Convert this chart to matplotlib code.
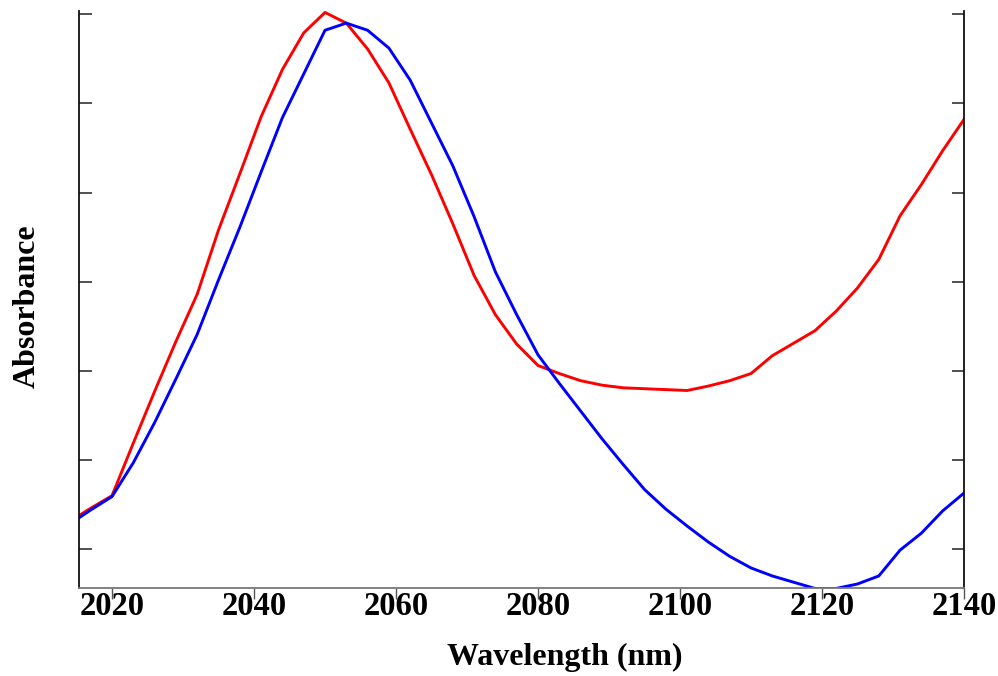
import matplotlib
matplotlib.use("Agg")
import matplotlib.pyplot as plt

wavelength = [2014, 2017, 2020, 2023, 2026, 2029, 2032, 2035, 2038, 2041, 2044, 2047,
              2050, 2053, 2056, 2059, 2062, 2065, 2068, 2071, 2074, 2077, 2080, 2083,
              2086, 2089, 2092, 2095, 2098, 2101, 2104, 2107, 2110, 2113, 2116, 2119,
              2122, 2125, 2128, 2131, 2134, 2137, 2140]

red_abs = [0.631, 0.646, 0.660, 0.719, 0.777, 0.833, 0.886, 0.958, 1.021, 1.085, 1.138, 1.179,
           1.202, 1.190, 1.161, 1.123, 1.071, 1.020, 0.965, 0.907, 0.863, 0.830, 0.806, 0.797,
           0.789, 0.784, 0.781, 0.780, 0.779, 0.778, 0.783, 0.789, 0.797, 0.817, 0.831, 0.845,
           0.867, 0.893, 0.925, 0.974, 1.009, 1.047, 1.082]

blue_abs = [0.628, 0.644, 0.659, 0.697, 0.742, 0.791, 0.841, 0.902, 0.961, 1.023, 1.084, 1.133,
            1.182, 1.190, 1.182, 1.162, 1.126, 1.078, 1.030, 0.973, 0.911, 0.863, 0.818, 0.786,
            0.755, 0.724, 0.695, 0.667, 0.645, 0.626, 0.608, 0.592, 0.579, 0.570, 0.563, 0.556,
            0.556, 0.561, 0.570, 0.599, 0.618, 0.643, 0.663]

x_ticks = [2020, 2040, 2060, 2080, 2100, 2120, 2140]
y_ticks = [0.6, 0.7, 0.8, 0.9, 1.0, 1.1, 1.2]

plt.rcParams['font.family'] = ['Liberation Serif', 'DejaVu Serif']

fig = plt.figure(figsize=(9.98, 6.76), dpi=100)
ax = fig.add_axes([79/998, 1-588/676, (964-79)/998, (588-11)/676])

ax.plot(wavelength, red_abs, color='#ff0000', lw=2.1)
ax.plot(wavelength, blue_abs, color='#0000ff', lw=2.1)

ax.set_xlim(2015.35, 2140)
ax.set_ylim(0.5565, 1.2036)

ax.spines['top'].set_visible(False)
for s in ['left', 'right']:
    ax.spines[s].set_linewidth(1.3)
    ax.spines[s].set_color('#111111')
ax.spines['bottom'].set_linewidth(1.3)
ax.spines['bottom'].set_color('#777777')

ax.set_xticks(x_ticks)
ax.set_xticklabels([str(t) for t in x_ticks], fontsize=23.5, fontweight='bold')
ax.tick_params(axis='x', direction='out', length=8, width=1, pad=-6, color='#555555')

ax.set_yticks(y_ticks)
ax.set_yticklabels([])
ax.tick_params(axis='y', direction='in', length=9, width=1.2, left=True, right=True, color='#333333')

fig.text(565/998, 1-657/676, 'Wavelength (nm)', fontsize=23, fontweight='bold', ha='center', va='center')
fig.text(27/998, 1-306/676, 'Absorbance', fontsize=23, fontweight='bold', ha='center', va='center', rotation=90)

fig.savefig('out.png', dpi=100)
